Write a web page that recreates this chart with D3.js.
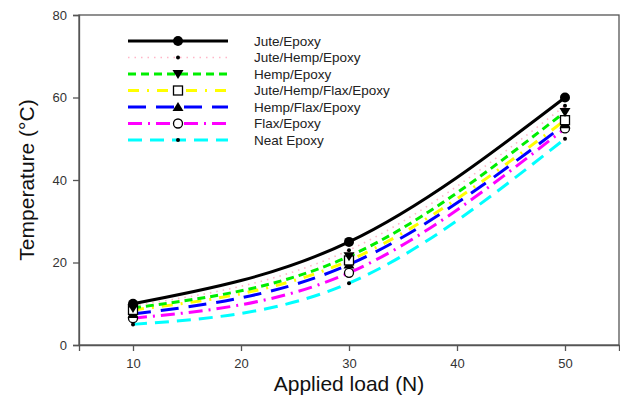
<!DOCTYPE html>
<html><head><meta charset="utf-8">
<script src="https://cdn.jsdelivr.net/npm/d3@7"></script>
<style>body{margin:0;background:#fff}svg{display:block}</style>
</head><body><svg id="c" width="620" height="399"></svg>
<script>
const loads = [10, 30, 50];
const seriesNames = ["Jute/Epoxy","Jute/Hemp/Epoxy","Hemp/Epoxy","Jute/Hemp/Flax/Epoxy","Hemp/Flax/Epoxy","Flax/Epoxy","Neat Epoxy"];
const juteEpoxy = [10, 25, 60];
const juteHempEpoxy = [9.5, 23, 58];
const hempEpoxy = [9, 21.5, 56.5];
const juteHempFlaxEpoxy = [8.5, 20.5, 54.5];
const hempFlaxEpoxy = [7.5, 19.5, 53.5];
const flaxEpoxy = [6.5, 17.5, 52.5];
const neatEpoxy = [5, 15, 50];
const xTicks = [10, 20, 30, 40, 50];
const yTicks = [0, 20, 40, 60, 80];

const values = [juteEpoxy, juteHempEpoxy, hempEpoxy, juteHempFlaxEpoxy, hempFlaxEpoxy, flaxEpoxy, neatEpoxy];
const styles = [
  {color:"#000", dash:null, w:3, marker:"circle", fill:"#000", r:5},
  {color:"#ffb6c8", dash:"1.5,5", w:1.6, marker:"dot", fill:"#000", r:2},
  {color:"#00ee00", dash:"8,5", w:3, marker:"tridown", fill:"#000", r:5},
  {color:"#ffff00", dash:"11,8,2,8", w:3, marker:"square", fill:"#fff", r:4.5},
  {color:"#0000ff", dash:"18,10", w:3, marker:"triup", fill:"#000", r:5},
  {color:"#ff00ff", dash:"14,6,2,6", w:3, marker:"ocircle", fill:"#fff", r:4.5},
  {color:"#00ffff", dash:"14,8", w:3, marker:"dot", fill:"#000", r:2}
];

const svg = d3.select("#c");
const x = d3.scaleLinear().domain([5, 55]).range([79, 619]);
const y = d3.scaleLinear().domain([0, 80]).range([345, 15]);

// frame
const axisColor = "#555";
svg.append("rect").attr("x", 79).attr("y", 15).attr("width", 540).attr("height", 330)
  .attr("fill", "none").attr("stroke", axisColor).attr("stroke-width", 1.3);

const xAxis = svg.append("g").attr("transform", "translate(0,345)")
  .call(d3.axisBottom(x).tickValues(xTicks).tickSize(6).tickPadding(8).tickFormat(d3.format("d")));
const yAxis = svg.append("g").attr("transform", "translate(79,0)")
  .call(d3.axisLeft(y).tickValues(yTicks).tickSize(6).tickPadding(6).tickFormat(d3.format("d")));
[xAxis, yAxis].forEach(g => {
  g.select(".domain").attr("stroke", axisColor).attr("stroke-width", 1.3);
  g.selectAll(".tick line").attr("stroke", axisColor).attr("stroke-width", 1.3);
  g.selectAll(".tick text").attr("fill", "#333").attr("font-family", "Liberation Sans, Arial, sans-serif").attr("font-size", 13);
});

svg.append("text").attr("x", 349).attr("y", 391).attr("text-anchor", "middle")
  .attr("font-family", "Liberation Sans, Arial, sans-serif").attr("font-size", 21).attr("fill", "#111")
  .text("Applied load (N)");
svg.append("text").attr("transform", "translate(34,180) rotate(-90)").attr("text-anchor", "middle")
  .attr("font-family", "Liberation Sans, Arial, sans-serif").attr("font-size", 21).attr("fill", "#111")
  .text("Temperature (°C)");

function drawMarker(g, s, cx, cy) {
  const r = s.r;
  if (s.marker === "circle" || s.marker === "dot") {
    g.append("circle").attr("cx", cx).attr("cy", cy).attr("r", r).attr("fill", s.fill);
  } else if (s.marker === "ocircle") {
    g.append("circle").attr("cx", cx).attr("cy", cy).attr("r", r).attr("fill", "#fff").attr("stroke", "#000").attr("stroke-width", 1.3);
  } else if (s.marker === "square") {
    g.append("rect").attr("x", cx - r).attr("y", cy - r).attr("width", 2*r).attr("height", 2*r)
      .attr("fill", "#fff").attr("stroke", "#000").attr("stroke-width", 1.3);
  } else if (s.marker === "triup") {
    g.append("path").attr("d", `M${cx},${cy - r}L${cx + r*1.1},${cy + r*0.8}L${cx - r*1.1},${cy + r*0.8}Z`).attr("fill", "#000");
  } else if (s.marker === "tridown") {
    g.append("path").attr("d", `M${cx},${cy + r}L${cx + r*1.1},${cy - r*0.8}L${cx - r*1.1},${cy - r*0.8}Z`).attr("fill", "#000");
  }
}

const line = d3.line().x(d => x(d[0])).y(d => y(d[1])).curve(d3.curveNatural);
const gl = svg.append("g");
// draw from bottom series to top so black is on top
for (let i = values.length - 1; i >= 0; i--) {
  const s = styles[i];
  const pts = loads.map((l, j) => [l, values[i][j]]);
  gl.append("path").attr("d", line(pts)).attr("fill", "none").attr("stroke", s.color)
    .attr("stroke-width", s.w).attr("stroke-dasharray", s.dash);
}
const gm = svg.append("g");
for (let i = values.length - 1; i >= 0; i--) {
  loads.forEach((l, j) => drawMarker(gm, styles[i], x(l), y(values[i][j])));
}

// legend
const lg = svg.append("g");
seriesNames.forEach((name, i) => {
  const s = styles[i];
  const ly = 41 + i * 16.5;
  lg.append("line").attr("x1", 128).attr("x2", 228).attr("y1", ly).attr("y2", ly)
    .attr("stroke", s.color).attr("stroke-width", s.w).attr("stroke-dasharray", s.dash);
  drawMarker(lg, s, 178, ly);
  lg.append("text").attr("x", 254).attr("y", ly + 4.5).attr("font-family", "Liberation Sans, Arial, sans-serif")
    .attr("font-size", 13.5).attr("fill", "#222").text(name);
});
</script></body></html>
